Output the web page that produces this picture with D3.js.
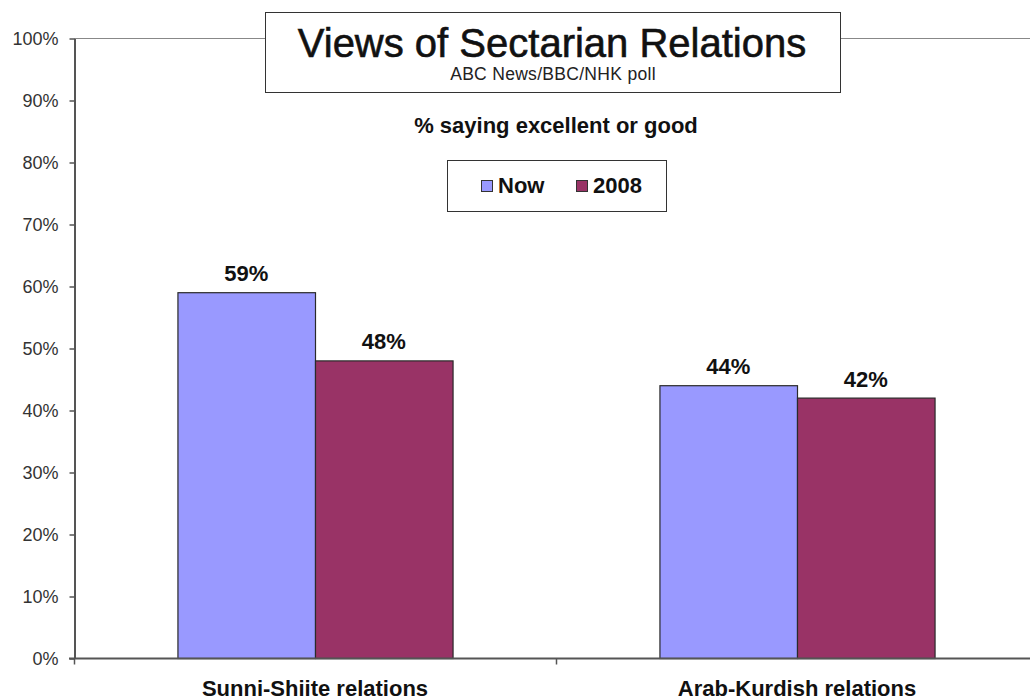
<!DOCTYPE html>
<html><head><meta charset="utf-8">
<script src="https://cdn.jsdelivr.net/npm/d3@7"></script>
<style>body{margin:0;background:#fff;} svg{display:block;font-family:"Liberation Sans",Arial,sans-serif;}</style>
</head><body>
<script>
const categories = ["Sunni-Shiite relations", "Arab-Kurdish relations"];
const seriesNames = ["Now", "2008"];
const nowValues = [59, 44];
const values2008 = [48, 42];
const yTicks = [0,10,20,30,40,50,60,70,80,90,100];
const colors = ["#9999FF", "#993366"];

const W = 1030, H = 700;
const svg = d3.select("body").append("svg").attr("width", W).attr("height", H);
const pLeft = 74, pRight = 1038, pTop = 38, pBottom = 658;

const x0 = d3.scaleBand().domain(categories).range([pLeft, pRight]).paddingInner(0).paddingOuter(0);
const x1 = d3.scaleBand().domain(seriesNames).range([0, x0.bandwidth()]).paddingInner(0).paddingOuter(0.752);
const y = d3.scaleLinear().domain([0, 100]).range([pBottom, pTop]);

// plot top border
svg.append("line").attr("x1", pLeft).attr("x2", pRight).attr("y1", pTop + 0.5).attr("y2", pTop + 0.5)
  .attr("stroke", "#888").attr("stroke-width", 1);

const data = categories.map((c, i) => ({cat: c, vals: [nowValues[i], values2008[i]]}));

const g = svg.selectAll("g.grp").data(data).enter().append("g").attr("transform", d => `translate(${x0(d.cat)},0)`);
g.selectAll("rect").data(d => d.vals.map((v, j) => ({v, s: seriesNames[j], j}))).enter().append("rect")
  .attr("x", d => x1(d.s) + 0.5).attr("width", x1.bandwidth())
  .attr("y", d => y(d.v) + 0.5).attr("height", d => y(0) - y(d.v))
  .attr("fill", d => colors[d.j]).attr("stroke", "#2a2a2a").attr("stroke-width", 1.2);
g.selectAll("text.val").data(d => d.vals.map((v, j) => ({v, s: seriesNames[j]}))).enter().append("text")
  .attr("x", d => x1(d.s) + x1.bandwidth() / 2).attr("y", d => y(d.v) - 11)
  .attr("text-anchor", "middle").attr("font-size", 22).attr("font-weight", "bold").attr("fill", "#111")
  .text(d => d.v + "%");

// y axis
const yAxis = d3.axisLeft(y).tickValues(yTicks).tickFormat(d => d + "%").tickSize(5).tickSizeOuter(0);
const ya = svg.append("g").attr("transform", `translate(${pLeft + 0.5},0.5)`).call(yAxis);
ya.select(".domain").attr("stroke", "#555").attr("stroke-width", 2);
ya.selectAll(".tick line").attr("stroke", "#555").attr("stroke-width", 1.5);
ya.selectAll(".tick text").attr("font-size", 18).attr("fill", "#333").attr("x", -16).attr("dy", "0.35em")
  .attr("font-family", "Liberation Sans, Arial, sans-serif");

// x axis
const xa = svg.append("g").attr("transform", `translate(0,${pBottom + 0.5})`);
xa.append("line").attr("x1", pLeft - 5).attr("x2", pRight).attr("stroke", "#555").attr("stroke-width", 2);
const dividers = [pLeft, pLeft + x0.bandwidth(), pRight];
xa.selectAll("line.div").data(dividers).enter().append("line")
  .attr("x1", d => d + 0.5).attr("x2", d => d + 0.5).attr("y1", 0).attr("y2", 6)
  .attr("stroke", "#555").attr("stroke-width", 1.5);
svg.selectAll("text.cat").data(categories).enter().append("text")
  .attr("x", d => x0(d) + x0.bandwidth() / 2).attr("y", 696)
  .attr("text-anchor", "middle").attr("font-size", 22).attr("font-weight", "bold").attr("fill", "#111")
  .text(d => d);

// title box
svg.append("rect").attr("x", 265.5).attr("y", 12.5).attr("width", 575).attr("height", 80)
  .attr("fill", "#fff").attr("stroke", "#333").attr("stroke-width", 1);
svg.append("text").attr("x", 552).attr("y", 57).attr("text-anchor", "middle")
  .attr("font-size", 40).attr("fill", "#111").attr("stroke", "#111").attr("stroke-width", 0.6)
  .text("Views of Sectarian Relations");
svg.append("text").attr("x", 553).attr("y", 80).attr("text-anchor", "middle")
  .attr("font-size", 17.5).attr("fill", "#222").attr("letter-spacing", 0.3).text("ABC News/BBC/NHK poll");

svg.append("text").attr("x", 556).attr("y", 133).attr("text-anchor", "middle")
  .attr("font-size", 22).attr("font-weight", "bold").attr("fill", "#111").text("% saying excellent or good");

// legend
svg.append("rect").attr("x", 447.5).attr("y", 160.5).attr("width", 219).attr("height", 51)
  .attr("fill", "#fff").attr("stroke", "#333").attr("stroke-width", 1);
const legX = [481, 576];
const lg = svg.selectAll("g.leg").data(seriesNames).enter().append("g")
  .attr("transform", (d, i) => `translate(${legX[i]},180)`);
lg.append("rect").attr("x", 0.5).attr("y", 0.5).attr("width", 11).attr("height", 11)
  .attr("fill", (d, i) => colors[i]).attr("stroke", "#333").attr("stroke-width", 1);
lg.append("text").attr("x", 17).attr("y", 13).attr("font-size", 22).attr("font-weight", "bold").attr("fill", "#111")
  .text(d => d);
</script>
</body></html>
